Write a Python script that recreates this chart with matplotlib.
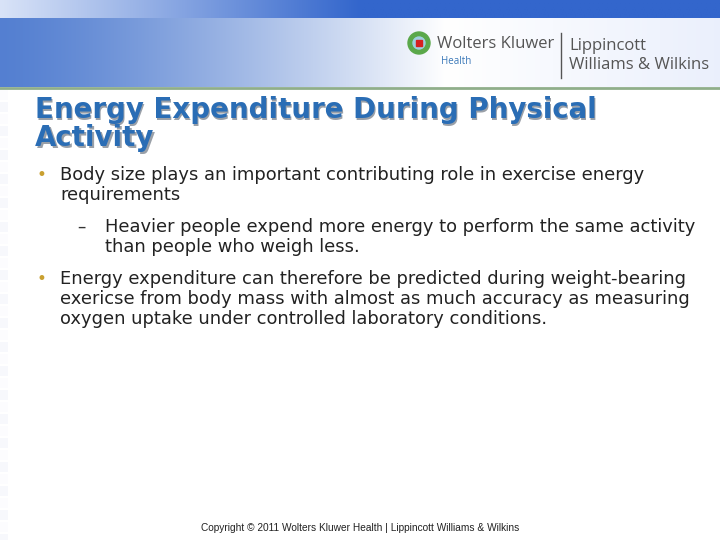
import numpy as np
import matplotlib
matplotlib.use("Agg")
import matplotlib.pyplot as plt

title_lines = ["Energy Expenditure During Physical", "Activity"]
bullets = [
    (60, 175, ["Body size plays an important contributing role in exercise energy", "requirements"], "•"),
    (105, 227, ["Heavier people expend more energy to perform the same activity", "than people who weigh less."], "–"),
    (60, 279, ["Energy expenditure can therefore be predicted during weight-bearing",
               "exericse from body mass with almost as much accuracy as measuring",
               "oxygen uptake under controlled laboratory conditions."], "•"),
]
footer = "Copyright © 2011 Wolters Kluwer Health | Lippincott Williams & Wilkins"

fig = plt.figure(figsize=(7.2, 5.4), dpi=100)
ax = fig.add_axes([0, 0, 1, 1])
ax.set_xlim(0, 720); ax.set_ylim(540, 0); ax.axis("off")

xs = np.linspace(0, 1, 400)
blue = np.array([0.33, 0.50, 0.82]); white = np.array([1, 1, 1]); pale = np.array([0.92, 0.94, 0.99])
col = []
for t in xs:
    if t < 0.62:
        a = (t / 0.62) ** 1.3
        col.append(blue * (1 - a) + white * a)
    else:
        a = (t - 0.62) / 0.38
        col.append(white * (1 - a) + pale * a)
ax.imshow(np.array(col)[None, :, :], extent=(0, 720, 87, 18), aspect="auto", zorder=1)
top = []
dark = np.array([0.20, 0.40, 0.80]); light = np.array([0.85, 0.89, 0.97])
for t in xs:
    a = min(1, t / 0.5)
    top.append(light * (1 - a) + dark * a)
ax.imshow(np.array(top)[None, :, :], extent=(0, 720, 18, 0), aspect="auto", zorder=1)
ax.plot([0, 720], [88, 88], color="#8fae8a", lw=2, zorder=2)
for i, y in enumerate(range(90, 540, 12)):
    ax.add_patch(plt.Rectangle((0, y), 8, 10, color=(0.90, 0.92, 0.97), alpha=0.3 if i % 2 else 0.1, lw=0, zorder=0))

ax.add_patch(plt.Circle((419, 43), 11, color="#5aa84a", zorder=3))
ax.add_patch(plt.Circle((419, 43), 6, color="#9fd0e0", zorder=3))
ax.add_patch(plt.Rectangle((416, 40), 6, 6, color="#d62020", zorder=4))
ax.text(437, 44, "Wolters Kluwer", fontsize=12, family="Open Sans", color="#555555", va="center", zorder=4)
ax.text(441, 62, "Health", fontsize=7, family="Open Sans", color="#3a78b8", va="center", zorder=4)
ax.plot([561, 561], [33, 78], color="#555555", lw=1, zorder=4)
ax.text(569, 46, "Lippincott", fontsize=12, family="Open Sans", color="#555555", va="center", zorder=4)
ax.text(569, 65, "Williams & Wilkins", fontsize=12, family="Open Sans", color="#555555", va="center", zorder=4)

for i, line in enumerate(title_lines):
    y = 110 + i * 28
    ax.text(36.5, y + 1.5, line, fontsize=19.9, family="DejaVu Sans", weight="bold", color="#9aa0a8", va="center", zorder=4)
    ax.text(35, y, line, fontsize=19.9, family="DejaVu Sans", weight="bold", color="#2a6db5", va="center", zorder=5)

for x, y, lines, mark in bullets:
    if mark == "•":
        ax.text(x - 19, y, mark, fontsize=12, color="#c9a030", va="center", ha="center", family="DejaVu Sans")
    else:
        ax.text(x - 28, y, mark, fontsize=12, color="#333333", va="center", family="DejaVu Sans")
    for j, line in enumerate(lines):
        ax.text(x, y + j * 20, line, fontsize=12.9, family="DejaVu Sans", color="#222222", va="center")

ax.text(360, 528, footer, fontsize=7.3, family="Liberation Sans", color="#222222", ha="center", va="center")
fig.savefig("out.png", dpi=100)
